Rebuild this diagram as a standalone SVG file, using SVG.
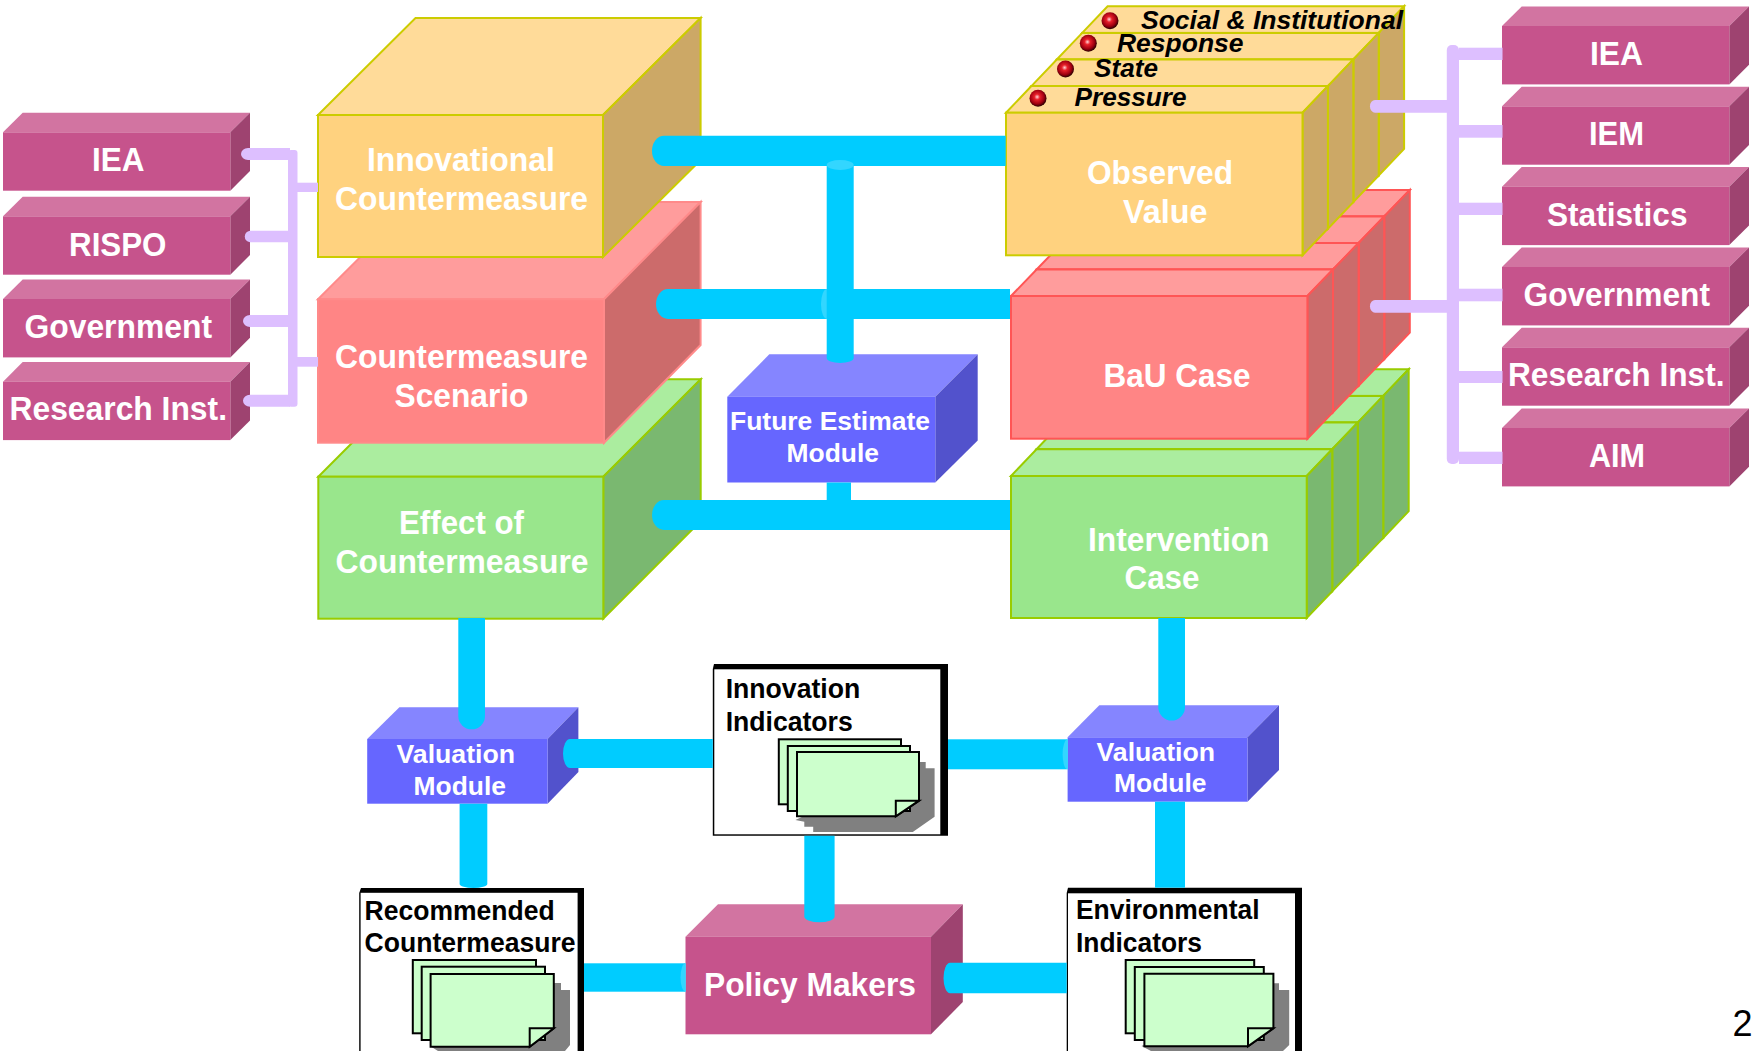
<svg xmlns="http://www.w3.org/2000/svg" xmlns:xlink="http://www.w3.org/1999/xlink" width="1752" height="1051" viewBox="0 0 1752 1051">
<style>
text{font-family:"Liberation Sans",Arial,sans-serif;font-weight:700}
.w{fill:#fff}
.b{fill:#000}
.big{font-size:32.5px}
.mid{font-size:26.5px}
.blk{font-size:27.5px}
.it{font-size:26.5px;font-style:italic}
.pf{fill:#C6538C}.pt{fill:#D274A1}.ps{fill:#9E4370}
.of{fill:#FFD27F;stroke:#CCCC00;stroke-width:2}.ot{fill:#FFDB99;stroke:#CCCC00;stroke-width:2}.os{fill:#CCA866;stroke:#CCCC00;stroke-width:2}
.rf{fill:#FF8585;stroke:#FF8A8A;stroke-width:2}.rt{fill:#FF9C9C;stroke:#FF8A8A;stroke-width:2}.rs{fill:#CC6B6B;stroke:#FF8A8A;stroke-width:2}
.rf2{fill:#FF8585;stroke:#FF5555;stroke-width:2}.rt2{fill:#FF9C9C;stroke:#FF5555;stroke-width:2}.rs2{fill:#CC6B6B;stroke:#FF5555;stroke-width:2}
.gf{fill:#99E68C;stroke:#99CC00;stroke-width:2}.gt{fill:#ABED9F;stroke:#99CC00;stroke-width:2}.gs{fill:#7AB870;stroke:#99CC00;stroke-width:2}
.uf{fill:#6666FF}.ut{fill:#8585FF}.us{fill:#5252CC}
.cy{fill:#00CCFF}.cyl{fill:#33D6FF}.la{fill:#DDBFFF}
.sheet{fill:#CCFFCC;stroke:#000;stroke-width:2}
.shadow{fill:#808080}
</style>
<defs>
<radialGradient id="ball" cx="45%" cy="42%" r="58%"><stop offset="0" stop-color="#FFD8D8"/><stop offset="0.28" stop-color="#E8202A"/><stop offset="0.7" stop-color="#A00010"/><stop offset="1" stop-color="#280000"/></radialGradient>
<g id="pink"><polygon class="pt" points="0,0 19.7,-19.6 247,-19.6 227.3,0"/><polygon class="ps" points="227.3,0 247,-19.6 247,38.8 227.3,58.4"/><rect class="pf" width="227.3" height="58.4"/></g>
<g id="obs"><polygon class="ot" points="0,0 25.4,-26.6 321.9,-26.6 296.5,0"/><polygon class="os" points="296.5,0 321.9,-26.6 321.9,116 296.5,142.6"/><rect class="of" width="296.5" height="142.6"/></g>
<g id="bau"><polygon class="rt2" points="0,0 25.6,-26.5 322,-26.5 296.4,0"/><polygon class="rs2" points="296.4,0 322,-26.5 322,116.2 296.4,142.7"/><rect class="rf2" width="296.4" height="142.7"/></g>
<g id="int"><polygon class="gt" points="0,0 25.5,-26.7 321.2,-26.7 295.7,0"/><polygon class="gs" points="295.7,0 321.2,-26.7 321.2,115.3 295.7,142"/><rect class="gf" width="295.7" height="142"/></g>
</defs>
<rect width="1752" height="1051" fill="#fff"/>

<g id="effect">
<polygon class="gt" points="318.3,476.7 415.5,379.3 700.7,379.3 603.3,476.7"/>
<polygon class="gs" points="603.3,476.7 700.7,379.3 700.7,521 603.3,618.7"/>
<rect class="gf" x="318.3" y="476.7" width="285" height="142"/>
<text class="w big" x="399" y="534.3" textLength="125" lengthAdjust="spacingAndGlyphs">Effect of</text>
<text class="w big" x="335.5" y="573.3" textLength="253" lengthAdjust="spacingAndGlyphs">Countermeasure</text>
</g>
<g id="scenario">
<polygon class="rt" points="318,299.3 415.5,202 700.6,202 604,299.3"/>
<polygon class="rs" points="604,299.3 700.6,202 700.6,345 604,442.7"/>
<rect class="rf" x="318" y="299.3" width="286" height="143.4"/>
<text class="w big" x="335" y="368.2" textLength="253" lengthAdjust="spacingAndGlyphs">Countermeasure</text>
<text class="w big" x="394.5" y="407.3" textLength="134" lengthAdjust="spacingAndGlyphs">Scenario</text>
</g>
<g id="innovational">
<polygon class="ot" points="318,115 415.5,18 700.6,18 603,115"/>
<polygon class="os" points="603,115 700.6,18 700.6,160 603,257"/>
<rect class="of" x="318" y="115" width="285" height="142"/>
<text class="w big" x="367" y="170.5" textLength="188" lengthAdjust="spacingAndGlyphs">Innovational</text>
<text class="w big" x="335" y="209.5" textLength="253" lengthAdjust="spacingAndGlyphs">Countermeasure</text>
</g>

<g id="src-iea"><use href="#pink" x="3" y="132.3"/><text class="w big" x="92" y="171" textLength="52.5" lengthAdjust="spacingAndGlyphs">IEA</text></g>
<g id="src-rispo"><use href="#pink" x="3" y="216.3"/><text class="w big" x="69" y="255.5" textLength="97.5" lengthAdjust="spacingAndGlyphs">RISPO</text></g>
<g id="src-government"><use href="#pink" x="3" y="299"/><text class="w big" x="24.5" y="338" textLength="187.5" lengthAdjust="spacingAndGlyphs">Government</text></g>
<g id="src-research"><use href="#pink" x="3" y="381.7"/><text class="w big" x="9.5" y="420.3" textLength="217.5" lengthAdjust="spacingAndGlyphs">Research Inst.</text></g>

<g id="intervention">
<use href="#int" x="1087.5" y="395.9"/><use href="#int" x="1062" y="422.6"/><use href="#int" x="1036.5" y="449.3"/><use href="#int" x="1011" y="476"/>
<text class="w big" x="1088" y="551" textLength="181.5" lengthAdjust="spacingAndGlyphs">Intervention</text>
<text class="w big" x="1124.5" y="589" textLength="75" lengthAdjust="spacingAndGlyphs">Case</text>
</g>
<g id="bau-case">
<use href="#bau" x="1087.8" y="216.5"/><use href="#bau" x="1062.2" y="243"/><use href="#bau" x="1036.6" y="269.5"/><use href="#bau" x="1011" y="296"/>
<text class="w big" x="1103.5" y="387" textLength="147" lengthAdjust="spacingAndGlyphs">BaU Case</text>
</g>
<g id="observed">
<use href="#obs" x="1082.2" y="32.9"/><use href="#obs" x="1056.8" y="59.5"/><use href="#obs" x="1031.4" y="86.1"/><use href="#obs" x="1006" y="112.7"/>
<text class="w big" x="1087" y="184" textLength="146" lengthAdjust="spacingAndGlyphs">Observed</text>
<text class="w big" x="1123" y="223" textLength="84.5" lengthAdjust="spacingAndGlyphs">Value</text>
<circle cx="1110" cy="20.7" r="8.5" fill="url(#ball)"/><circle cx="1088.3" cy="43.3" r="8.5" fill="url(#ball)"/><circle cx="1065.5" cy="69" r="8.5" fill="url(#ball)"/><circle cx="1038" cy="98.3" r="8.5" fill="url(#ball)"/>
<text class="b it" x="1141" y="28.7" textLength="262" lengthAdjust="spacingAndGlyphs">Social &amp; Institutional</text>
<text class="b it" x="1117" y="51.7" textLength="126.5" lengthAdjust="spacingAndGlyphs">Response</text>
<text class="b it" x="1094" y="76.7" textLength="64" lengthAdjust="spacingAndGlyphs">State</text>
<text class="b it" x="1074.5" y="105.7" textLength="112" lengthAdjust="spacingAndGlyphs">Pressure</text>
</g>

<g id="out-iea"><use href="#pink" x="1502" y="26"/><text class="w big" x="1590" y="65" textLength="53" lengthAdjust="spacingAndGlyphs">IEA</text></g>
<g id="out-iem"><use href="#pink" x="1502" y="106.3"/><text class="w big" x="1589" y="145" textLength="55" lengthAdjust="spacingAndGlyphs">IEM</text></g>
<g id="out-statistics"><use href="#pink" x="1502" y="186.7"/><text class="w big" x="1547" y="226.3" textLength="140.5" lengthAdjust="spacingAndGlyphs">Statistics</text></g>
<g id="out-government"><use href="#pink" x="1502" y="267"/><text class="w big" x="1523.5" y="306.3" textLength="186.5" lengthAdjust="spacingAndGlyphs">Government</text></g>
<g id="out-research"><use href="#pink" x="1502" y="347.3"/><text class="w big" x="1508" y="386.3" textLength="216.5" lengthAdjust="spacingAndGlyphs">Research Inst.</text></g>
<g id="out-aim"><use href="#pink" x="1502" y="428"/><text class="w big" x="1589" y="467" textLength="56" lengthAdjust="spacingAndGlyphs">AIM</text></g>

<g id="future-estimate">
<polygon class="ut" points="727.3,396.7 769.3,354.3 977.7,354.3 935.3,396.7"/>
<polygon class="us" points="935.3,396.7 977.7,354.3 977.7,440.5 935.3,482.5"/>
<rect class="uf" x="727.3" y="396.7" width="208" height="85.8"/>
<text class="w mid" x="730" y="430" textLength="200" lengthAdjust="spacingAndGlyphs">Future Estimate</text>
<text class="w mid" x="786.5" y="462" textLength="92.5" lengthAdjust="spacingAndGlyphs">Module</text>
</g>
<g id="valuation-left">
<polygon class="ut" points="367.2,739 399.4,707.3 578.4,707.3 547.6,739"/>
<polygon class="us" points="547.6,739 578.4,707.3 578.4,772 547.6,803.7"/>
<rect class="uf" x="367.2" y="739" width="180.4" height="64.7"/>
<text class="w mid" x="396.5" y="763" textLength="118.5" lengthAdjust="spacingAndGlyphs">Valuation</text>
<text class="w mid" x="413.5" y="795" textLength="92.5" lengthAdjust="spacingAndGlyphs">Module</text>
</g>
<g id="valuation-right">
<polygon class="ut" points="1067.6,737.3 1099.3,705.3 1279,705.3 1247.5,737.3"/>
<polygon class="us" points="1247.5,737.3 1279,705.3 1279,770 1247.5,801.7"/>
<rect class="uf" x="1067.6" y="737.3" width="179.9" height="64.4"/>
<text class="w mid" x="1096.5" y="760.5" textLength="118.5" lengthAdjust="spacingAndGlyphs">Valuation</text>
<text class="w mid" x="1114" y="792" textLength="92.5" lengthAdjust="spacingAndGlyphs">Module</text>
</g>
<g id="policy-makers">
<polygon class="pt" points="685.5,936.7 718,904.3 962.8,904.3 931,936.7"/>
<polygon class="ps" points="931,936.7 962.8,904.3 962.8,1002 931,1034.3"/>
<rect class="pf" x="685.5" y="936.7" width="245.5" height="97.6"/>
<text class="w big" x="704" y="996" textLength="212" lengthAdjust="spacingAndGlyphs">Policy Makers</text>
</g>

<g id="innovation-indicators">
<polygon points="714,664 948,664 948,835.7 712.8,835.7 712.8,669" fill="#000"/>
<rect x="714.3" y="669.3" width="226" height="165" fill="#fff"/>
<text class="b blk" x="725.7" y="698.3" textLength="134.5" lengthAdjust="spacingAndGlyphs">Innovation</text>
<text class="b blk" x="725.7" y="730.5" textLength="127" lengthAdjust="spacingAndGlyphs">Indicators</text>
<polygon class="shadow" points="919,762 925.7,762 925.7,768.3 934.6,768.3 934.6,816.7 912.8,832 813.2,832 813.2,826.7 804.3,826.7 804.3,821.7 795.4,820"/>
<rect class="sheet" x="778.8" y="739.3" width="122.2" height="65"/>
<rect class="sheet" x="787.8" y="746" width="122.2" height="65"/>
<path class="sheet" d="M797,752H919V800.7L895.8,816.3H797Z"/>
<path class="sheet" d="M895.8,816.3V800.7H919Z"/>
</g>
<g id="recommended-countermeasure">
<polygon points="361,888 584,888 584,1051 359.2,1051 359.2,893" fill="#000"/>
<rect x="360.6" y="892.8" width="217" height="159" fill="#fff"/>
<text class="b blk" x="364.6" y="920" textLength="190" lengthAdjust="spacingAndGlyphs">Recommended</text>
<text class="b blk" x="364.6" y="952" textLength="211" lengthAdjust="spacingAndGlyphs">Countermeasure</text>
<polygon class="shadow" points="553.8,983 561,983 561,990 570,990 570,1045 565,1051 438,1051 430,1046"/>
<rect class="sheet" x="412.8" y="960" width="123.2" height="73.3"/>
<rect class="sheet" x="421.7" y="966.7" width="123.3" height="73.3"/>
<path class="sheet" d="M430.6,974H553.8V1028.3L529.7,1046.7H430.6Z"/>
<path class="sheet" d="M529.7,1046.7V1028.3H553.8Z"/>
</g>
<g id="environmental-indicators">
<polygon points="1068,887.7 1302,887.7 1302,1051 1066.7,1051 1066.7,893" fill="#000"/>
<rect x="1068" y="893.3" width="227" height="158" fill="#fff"/>
<text class="b blk" x="1076" y="919.3" textLength="183.5" lengthAdjust="spacingAndGlyphs">Environmental</text>
<text class="b blk" x="1076" y="951.5" textLength="126" lengthAdjust="spacingAndGlyphs">Indicators</text>
<polygon class="shadow" points="1273.4,983.3 1279,983.3 1279,990 1289.2,990 1289.2,1045 1283,1051 1151,1051 1141.5,1046"/>
<rect class="sheet" x="1125.7" y="960" width="128.5" height="73.3"/>
<rect class="sheet" x="1134.8" y="967" width="129" height="73"/>
<path class="sheet" d="M1144.4,973.7H1273.4V1028.3L1248,1046.3H1144.4Z"/>
<path class="sheet" d="M1248,1046.3V1028.3H1273.4Z"/>
</g>

<g id="connectors">
<g id="lavender">
<rect class="la" x="288" y="150" width="9.5" height="256.7" rx="3"/>
<path class="la" d="M290,148H248A7,6 0 0 0 248,160H290Z"/>
<path class="la" d="M290,230.7H250A7,6 0 0 0 250,242.3H290Z"/>
<path class="la" d="M290,315H250A7,6 0 0 0 250,327H290Z"/>
<path class="la" d="M290,394.7H250A7,6 0 0 0 250,406.7H290Z"/>
<rect class="la" x="297" y="182.7" width="21" height="9.3"/>
<rect class="la" x="297" y="357" width="21" height="9.7"/>
<rect class="la" x="1446.8" y="45" width="12.2" height="419" rx="5"/>
<rect class="la" x="1459" y="47.7" width="43.5" height="12.3"/>
<rect class="la" x="1459" y="125" width="43.5" height="12.7"/>
<rect class="la" x="1459" y="202.7" width="43.5" height="12.3"/>
<rect class="la" x="1459" y="288.7" width="43.5" height="12.6"/>
<rect class="la" x="1459" y="371" width="43.5" height="12"/>
<rect class="la" x="1459" y="451.7" width="43.5" height="12.3"/>
<path class="la" d="M1450,100H1375A5,6.3 0 0 0 1375,112.7H1450Z"/>
<path class="la" d="M1450,300H1375A5,6.3 0 0 0 1375,312.7H1450Z"/>
</g>
<g id="cyan">
<path class="cy" d="M1005.7,135.7H664A12,15.1 0 0 0 664,166H1005.7Z"/>
<path class="cy" d="M1010,289H668A12,15 0 0 0 668,319H1010Z"/>
<ellipse class="cyl" cx="827" cy="304" rx="6" ry="15"/>
<path class="cy" d="M1010,500H664A12,15 0 0 0 664,530H1010Z"/>
<path class="cy" d="M826.7,165V358A13.5,5 0 0 0 853.7,358V165Z"/>
<ellipse class="cyl" cx="840.2" cy="165" rx="13.5" ry="5"/>
<rect class="cy" x="826.7" y="482.5" width="24.3" height="18"/>
<path class="cy" d="M458.3,618V716A13.3,13.3 0 0 0 485,716V618Z"/>
<path class="cy" d="M1158.3,618V708A13.4,13.7 0 0 0 1185,708V618Z"/>
<path class="cy" d="M459.6,803.7V884A13.8,4 0 0 0 487.3,884V803.7Z"/>
<rect class="cy" x="1155" y="801.7" width="30" height="86"/>
<path class="cy" d="M712.8,739H570A7,14.5 0 0 0 570,768H712.8Z"/>
<rect class="cy" x="948" y="739.3" width="119.6" height="30"/>
<path class="cyl" d="M1067.6,739.3A5,15 0 0 0 1067.6,769.3Z"/>
<path class="cy" d="M804.3,835.7V917A15.2,5.7 0 0 0 834.6,917V835.7Z"/>
<rect class="cy" x="584" y="963.3" width="101.5" height="28.4"/>
<path class="cyl" d="M685.5,963.3A5,14.2 0 0 0 685.5,991.7Z"/>
<path class="cy" d="M1066.7,962.7H950A6.5,15.3 0 0 0 950,993.3H1066.7Z"/>
</g>
</g>
<text x="1732.5" y="1035.7" font-size="36" style="font-weight:400;font-family:'Liberation Sans',Arial,sans-serif" fill="#000">2</text>
</svg>
